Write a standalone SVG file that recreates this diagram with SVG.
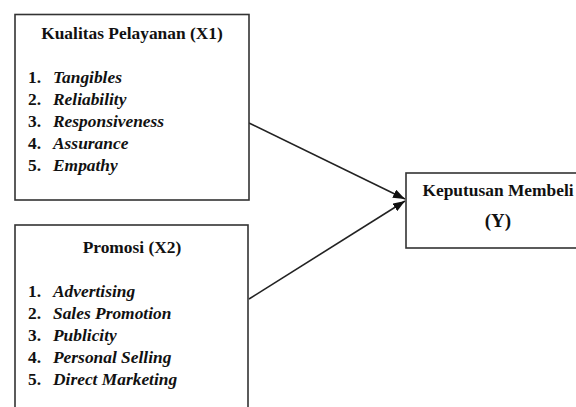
<svg xmlns="http://www.w3.org/2000/svg" width="576" height="407" viewBox="0 0 576 407">
<style>
.box{fill:#fff;stroke:#333;stroke-width:1.6}
.t{font-family:"Liberation Serif","Times New Roman",serif;font-size:17.4px;font-weight:bold;fill:#111}
.i{font-style:italic}
.c{text-anchor:middle}
.ln{stroke:#222;stroke-width:1.6;fill:none}
</style>
<defs>
<marker id="ah" viewBox="0 0 12 9" refX="12" refY="4.5" markerWidth="12" markerHeight="9" markerUnits="userSpaceOnUse" orient="auto">
<path d="M0,0 L12,4.5 L0,9 z" fill="#111"/>
</marker>
</defs>
<rect width="576" height="407" fill="#fff"/>
<g id="connectors">
<line class="ln" x1="249" y1="123" x2="405" y2="199" marker-end="url(#ah)"/>
<line class="ln" x1="249" y1="299" x2="405" y2="201" marker-end="url(#ah)"/>
</g>
<g id="x1">
<rect class="box" x="15" y="14.5" width="234" height="185.5"/>
<text class="t c" x="132" y="39">Kualitas Pelayanan (X1)</text>
<text class="t" x="28" y="83">1.</text><text class="t i" x="53" y="83">Tangibles</text>
<text class="t" x="28" y="105">2.</text><text class="t i" x="53" y="105">Reliability</text>
<text class="t" x="28" y="127">3.</text><text class="t i" x="53" y="127">Responsiveness</text>
<text class="t" x="28" y="149">4.</text><text class="t i" x="53" y="149">Assurance</text>
<text class="t" x="28" y="171">5.</text><text class="t i" x="53" y="171">Empathy</text>
</g>
<g id="x2">
<rect class="box" x="15" y="225" width="233" height="200"/>
<text class="t c" x="132" y="253">Promosi (X2)</text>
<text class="t" x="28" y="297">1.</text><text class="t i" x="53" y="297">Advertising</text>
<text class="t" x="28" y="319">2.</text><text class="t i" x="53" y="319">Sales Promotion</text>
<text class="t" x="28" y="341">3.</text><text class="t i" x="53" y="341">Publicity</text>
<text class="t" x="28" y="363">4.</text><text class="t i" x="53" y="363">Personal Selling</text>
<text class="t" x="28" y="385">5.</text><text class="t i" x="53" y="385">Direct Marketing</text>
</g>
<g id="y">
<rect class="box" x="406" y="173" width="190" height="75"/>
<text class="t c" x="498" y="196">Keputusan Membeli</text>
<text class="t c" x="498" y="227" style="font-size:19px">(Y)</text>
</g>
</svg>
